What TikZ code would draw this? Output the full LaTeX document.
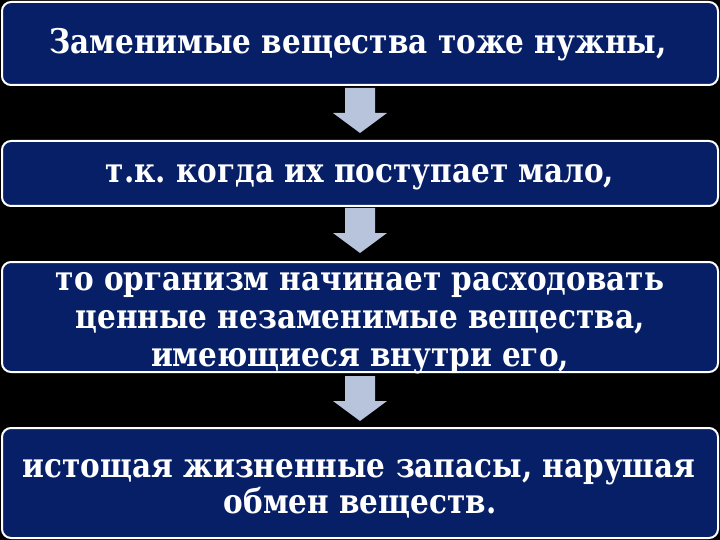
\documentclass[tikz,border=0pt]{standalone}
\usepackage{fontspec}
\usepackage{graphicx}
\setmainfont{DejaVu Serif}
\frenchspacing
\definecolor{navy}{RGB}{6,31,102}
\definecolor{arrowblue}{RGB}{184,196,220}
\newcommand{\tallline}[1]{\scalebox{1}[1.15]{#1}}
\begin{document}
\begin{tikzpicture}[x=1pt,y=-1pt,
  stepbox/.style={draw=white, line width=2pt, fill=navy, rounded corners=9pt},
  txt/.style={text=white, font=\fontsize{29.5}{36}\selectfont\bfseries, inner sep=0pt, anchor=base},
  downarrow/.style={fill=arrowblue, draw=none}]
\fill[black] (0,0) rectangle (720,540);
\useasboundingbox (0,0) rectangle (720,540);
\draw[stepbox] (2,2) rectangle (718,85);
\draw[stepbox] (2,141) rectangle (718,206);
\draw[stepbox] (2,262) rectangle (718,372);
\draw[stepbox] (2,428) rectangle (718,538);
\node[txt] (t1) at (358,54) {\tallline{Заменимые вещества тоже нужны,}};
\node[txt] (t2) at (360,183) {\tallline{т.к. когда их поступает мало,}};
\node[txt] (t3a) at (360,290) {\tallline{то организм начинает расходовать}};
\node[txt] (t3b) at (360,328) {\tallline{ценные незаменимые вещества,}};
\node[txt] (t3c) at (360,366) {\tallline{имеющиеся внутри его,}};
\node[txt] (t4a) at (359,477) {\tallline{истощая жизненные запасы, нарушая}};
\node[txt] (t4b) at (360,513) {\tallline{обмен веществ.}};
\foreach \y in {88,208,376}{
  \fill[downarrow] (345,\y) -- (375,\y) -- (375,\y+25) -- (387,\y+25) -- (360,\y+45) -- (333,\y+25) -- (345,\y+25) -- cycle;
}
\end{tikzpicture}
\end{document}
